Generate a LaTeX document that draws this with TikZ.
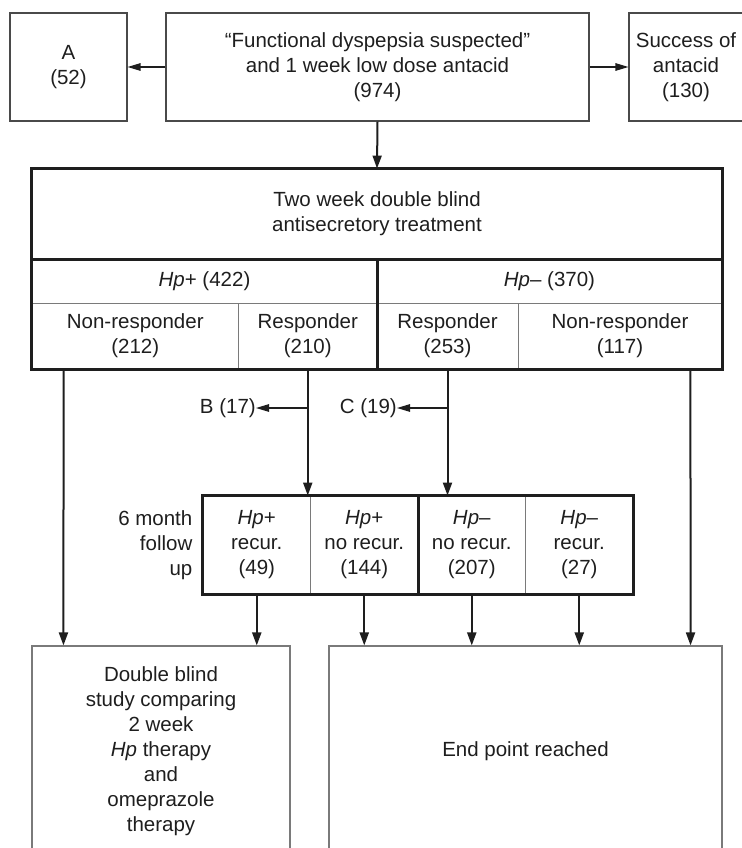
\documentclass[tikz,border=0pt]{standalone}
\usepackage{fontspec}
\setmainfont{Liberation Sans}
\usepackage{tikz}
\usetikzlibrary{arrows.meta, positioning, calc}
\definecolor{inkcolor}{HTML}{1E1E1E}
\definecolor{rulecolor}{HTML}{4A4A4A}
\definecolor{palecolor}{HTML}{7A7A7A}

\begin{document}
\begin{tikzpicture}[x=1pt, y=-1pt,
    txt/.style={font=\fontsize{20.5}{25}\selectfont, text=inkcolor, align=center, inner sep=0pt},
    flowbox/.style={txt, rectangle, draw=#1, line width=1.1pt},
    flowbox/.default=rulecolor,
    cell/.style={txt, rectangle, draw=palecolor, line width=0.9pt},
    thickline/.style={draw=inkcolor, line width=2.2pt},
    bigarrow/.style={-{Triangle[length=13pt, width=9pt]}, inkcolor, line width=2pt},
    thinarrow/.style={-{Triangle[length=13pt, width=7.5pt]}, inkcolor, line width=1.2pt}
]
\useasboundingbox (0,0) rectangle (741,848);

% screening
\node[flowbox, minimum width=117pt, minimum height=108pt] (grpA) at (68.5,67) {A\\(52)};
\node[flowbox, minimum width=423pt, minimum height=108pt] (screen) at (377.5,67) {“Functional dyspepsia suspected”\\and 1 week low dose antacid\\(974)};
\node[flowbox, minimum width=114pt, minimum height=108pt] (success) at (686,67) {Success of\\antacid\\(130)};
\draw[thinarrow] (screen.west) -- (grpA.east);
\draw[thinarrow] (screen.east) -- (success.west);

% double blind treatment
\node[cell, minimum width=690pt, minimum height=90pt] (title) at (377,214) {Two week double blind\\antisecretory treatment};
\node[cell, minimum width=345pt, minimum height=44pt] (hppos) at (204.5,281) {\textit{Hp}+ (422)};
\node[cell, minimum width=345pt, minimum height=44pt] (hpneg) at (549.5,281) {\textit{Hp}– (370)};
\node[cell, minimum width=206.5pt, minimum height=66pt] (nrpos) at (135.25,336) {Non-responder\\(212)};
\node[cell, minimum width=138.5pt, minimum height=66pt] (rpos) at (307.75,336) {Responder\\(210)};
\node[cell, minimum width=141pt, minimum height=66pt] (rneg) at (447.5,336) {Responder\\(253)};
\node[cell, minimum width=204pt, minimum height=66pt] (nrneg) at (620,336) {Non-responder\\(117)};
\draw[thickline] (title.north west) rectangle (nrneg.south east);
\draw[thickline] (title.south west) -- (title.south east);
\draw[thickline] (hppos.north east) -- (rpos.south east);
\draw[bigarrow] (screen.south) -- (title.north);

% withdrawals
\node[txt, anchor=east] (lblB) at (256,408) {B (17)};
\node[txt, anchor=east] (lblC) at (397,408) {C (19)};

% follow up
\node[cell, minimum width=107.5pt, minimum height=98pt] (fu1) at (256.75,545) {\textit{Hp}+\\recur.\\(49)};
\node[cell, minimum width=107.5pt, minimum height=98pt] (fu2) at (364.25,545) {\textit{Hp}+\\no recur.\\(144)};
\node[cell, minimum width=107.5pt, minimum height=98pt] (fu3) at (471.75,545) {\textit{Hp}–\\no recur.\\(207)};
\node[cell, minimum width=107.5pt, minimum height=98pt] (fu4) at (579.25,545) {\textit{Hp}–\\recur.\\(27)};
\draw[thickline] (fu1.north west) rectangle (fu4.south east);
\draw[thickline] (fu2.north east) -- (fu2.south east);
\node[txt, align=right, anchor=east] (fulabel) at ([xshift=-10pt]fu1.west) {6 month\\follow\\up};

% outcomes
\node[flowbox=palecolor, minimum width=258pt, minimum height=210pt] (study) at (161,751) {Double blind\\study comparing\\2 week\\\textit{Hp} therapy\\and\\omeprazole\\therapy};
\node[flowbox=palecolor, minimum width=393pt, minimum height=210pt] (endbox) at (525.5,751) {End point reached};

\draw[bigarrow] (rpos.south) -- (rpos.south |- fu1.north);
\draw[bigarrow] (rneg.south) -- (rneg.south |- fu3.north);
\draw[thinarrow] (lblB.east -| rpos.south) -- (lblB.east);
\draw[thinarrow] (lblC.east -| rneg.south) -- (lblC.east);
\draw[bigarrow] ([xshift=32pt]nrpos.south west) -- ([xshift=32pt]study.north west);
\draw[bigarrow] ([xshift=-32pt]nrneg.south east) -- ([xshift=-32pt]endbox.north east);
\draw[bigarrow] (fu1.south) -- (fu1.south |- study.north);
\draw[bigarrow] (fu2.south) -- (fu2.south |- endbox.north);
\draw[bigarrow] (fu3.south) -- (fu3.south |- endbox.north);
\draw[bigarrow] (fu4.south) -- (fu4.south |- endbox.north);
\end{tikzpicture}
\end{document}
